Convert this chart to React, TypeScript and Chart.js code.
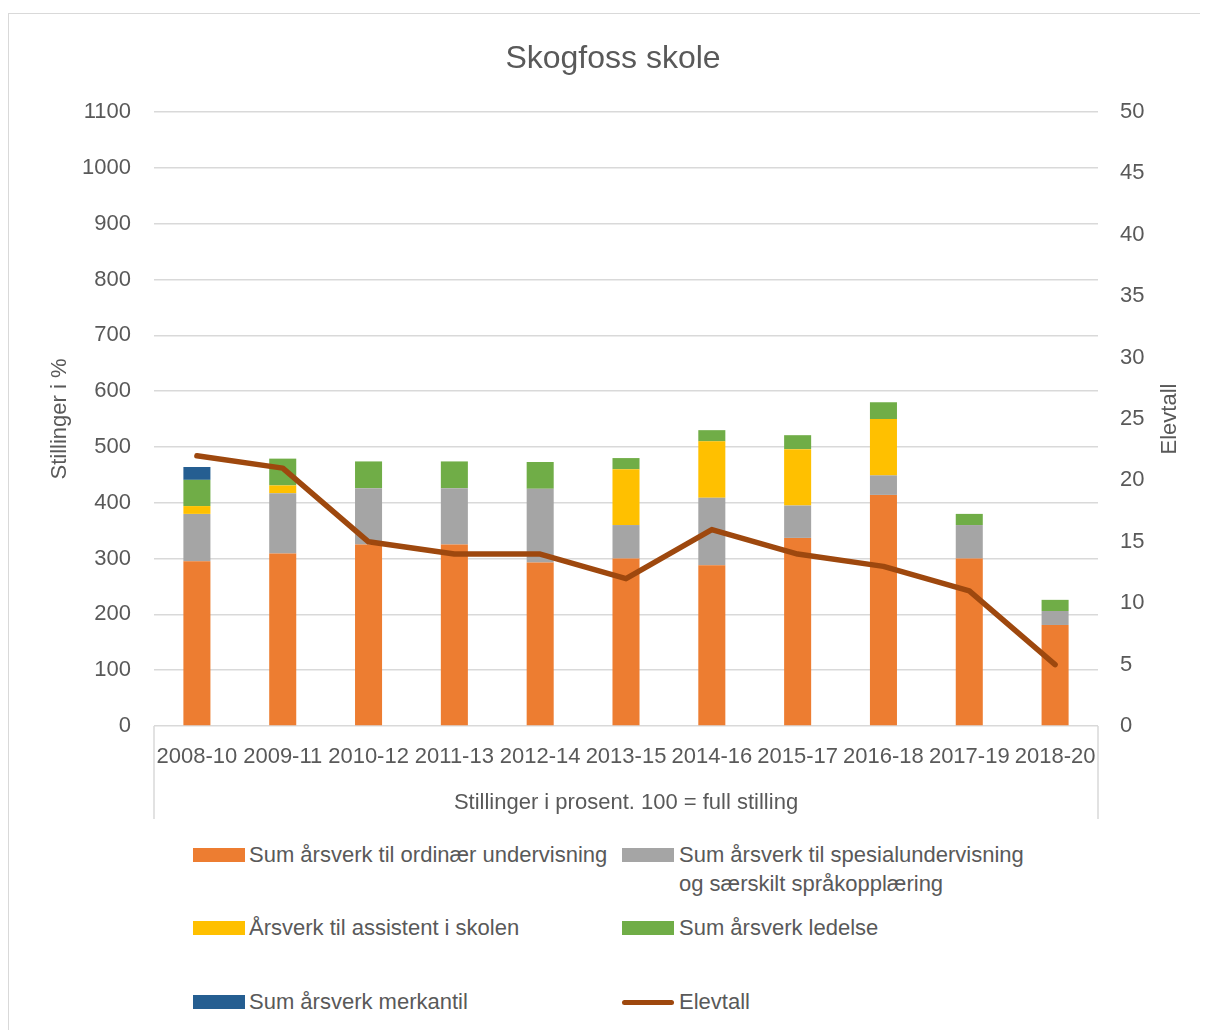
import React, { useEffect, useRef } from "react";
import { Chart, registerables } from "chart.js";

Chart.register(...registerables);

const categories = ["2008-10", "2009-11", "2010-12", "2011-13", "2012-14", "2013-15", "2014-16", "2015-17", "2016-18", "2017-19", "2018-20"];
const ordinaer = [295, 309, 325, 325, 293, 300, 288, 337, 414, 300, 181];
const spesial = [85, 108, 101, 101, 132, 60, 121, 58, 35, 60, 25];
const assistent = [14, 14, 0, 0, 0, 100, 101, 101, 101, 0, 0];
const ledelse = [47, 48, 48, 48, 48, 20, 20, 25, 30, 20, 20];
const merkantil = [23, 0, 0, 0, 0, 0, 0, 0, 0, 0, 0];
const elevtall = [22, 21, 15, 14, 14, 12, 16, 14, 13, 11, 5];

const title = "Skogfoss skole";
const leftTitle = "Stillinger i %";
const rightTitle = "Elevtall";
const xTitle = "Stillinger i prosent. 100 = full stilling";

const FONT = "'Liberation Sans', Arial, sans-serif";
const TXT = "#595959";
const GRID = "#d9d9d9";

const decorPlugin = {
  id: "decor",
  afterDraw(chart: any) {
    const ctx = chart.ctx;
    const a = chart.chartArea;
    ctx.save();
    ctx.fillStyle = TXT;
    ctx.textAlign = "center";
    ctx.textBaseline = "middle";
    ctx.font = `32px ${FONT}`;
    ctx.fillText(title, 604, 45);
    ctx.font = `22px ${FONT}`;
    ctx.fillText(xTitle, (a.left + a.right) / 2, 789);
    ctx.save();
    ctx.translate(51, (a.top + a.bottom) / 2);
    ctx.rotate(-Math.PI / 2);
    ctx.fillText(leftTitle, 0, 0);
    ctx.restore();
    ctx.save();
    ctx.translate(1161, (a.top + a.bottom) / 2);
    ctx.rotate(-Math.PI / 2);
    ctx.fillText(rightTitle, 0, 0);
    ctx.restore();
    ctx.strokeStyle = GRID;
    ctx.lineWidth = 1.5;
    ctx.beginPath();
    ctx.moveTo(a.left, a.bottom);
    ctx.lineTo(a.left, 805);
    ctx.moveTo(a.right, a.bottom);
    ctx.lineTo(a.right, 805);
    ctx.stroke();
    ctx.restore();
  },
};

export default function App() {
  const ref = useRef<HTMLCanvasElement>(null);
  useEffect(() => {
    document.documentElement.style.overflow = "hidden";
    const bar = (label: string, data: number[], color: string) => ({
      type: "bar" as const,
      label,
      data,
      backgroundColor: color,
      borderWidth: 0,
      yAxisID: "y",
      order: 1,
      categoryPercentage: 1,
      barPercentage: 0.315,
    });
    const chart = new Chart(ref.current!, {
      data: {
        labels: categories,
        datasets: [
          {
            type: "line" as const,
            label: "Elevtall",
            data: elevtall,
            borderColor: "#9e480e",
            backgroundColor: "#9e480e",
            borderWidth: 5.5,
            pointRadius: 0,
            tension: 0,
            yAxisID: "y1",
            order: 0,
            borderCapStyle: "round",
            borderJoinStyle: "round",
          } as any,
          bar("Sum årsverk til ordinær undervisning", ordinaer, "#ed7d31"),
          bar("Sum årsverk til spesialundervisning og særskilt språkopplæring", spesial, "#a5a5a5"),
          bar("Årsverk til assistent i skolen", assistent, "#ffc000"),
          bar("Sum årsverk ledelse", ledelse, "#70ad47"),
          bar("Sum årsverk merkantil", merkantil, "#255e91"),
        ],
      },
      options: {
        responsive: false,
        animation: false,
        layout: { padding: { top: 98, left: 0, right: 0, bottom: 0 } },
        plugins: { legend: { display: false }, title: { display: false }, tooltip: { enabled: false } },
        scales: {
          x: {
            stacked: true,
            grid: { display: false, drawTicks: false },
            border: { display: false },
            ticks: { color: TXT, font: { family: FONT, size: 22 }, padding: 18, autoSkip: false, maxRotation: 0, minRotation: 0 },
            afterFit: (s: any) => { s.height = 108; },
          },
          y: {
            stacked: true,
            min: 0,
            max: 1100,
            position: "left",
            grid: { color: GRID, lineWidth: 1.5, drawTicks: false },
            border: { display: false },
            ticks: { stepSize: 100, color: TXT, font: { family: FONT, size: 22 }, padding: 23, callback: (v: any) => String(v) },
            afterFit: (s: any) => { s.width = 145; },
          },
          y1: {
            min: 0,
            max: 50,
            position: "right",
            grid: { display: false, drawTicks: false },
            border: { display: false },
            ticks: { stepSize: 5, color: TXT, font: { family: FONT, size: 22 }, padding: 22, callback: (v: any) => String(v) },
            afterFit: (s: any) => { s.width = 110; },
          },
        },
      } as any,
      plugins: [decorPlugin],
    } as any);
    return () => chart.destroy();
  }, []);

  const textStyle = (left: number, top: number): React.CSSProperties => ({
    position: "absolute",
    left,
    top,
    font: `22px ${FONT}`,
    lineHeight: "29px",
    color: TXT,
    whiteSpace: "nowrap",
  });
  const sw = (left: number, top: number, color: string): React.CSSProperties => ({
    position: "absolute",
    left,
    top,
    width: 52,
    height: 14,
    background: color,
  });

  return (
    <div
      style={{
        position: "relative",
        marginTop: 5,
        width: 1199,
        height: 1016,
        borderLeft: `1.5px solid ${GRID}`,
        borderTop: `1.5px solid ${GRID}`,
        background: "#fff",
      }}
    >
      <canvas ref={ref} width={1199} height={820} style={{ position: "absolute", left: 0, top: 0 }} />
      <div style={sw(184, 834, "#ed7d31")} />
      <div style={textStyle(240, 826)}>Sum årsverk til ordinær undervisning</div>
      <div style={sw(613, 834, "#a5a5a5")} />
      <div style={textStyle(670, 826)}>
        Sum årsverk til spesialundervisning
        <br />
        og særskilt språkopplæring
      </div>
      <div style={sw(184, 907, "#ffc000")} />
      <div style={textStyle(240, 899)}>Årsverk til assistent i skolen</div>
      <div style={sw(613, 907, "#70ad47")} />
      <div style={textStyle(670, 899)}>Sum årsverk ledelse</div>
      <div style={sw(184, 981, "#255e91")} />
      <div style={textStyle(240, 973)}>Sum årsverk merkantil</div>
      <div
        style={{
          position: "absolute",
          left: 613,
          top: 985.5,
          width: 52,
          height: 5,
          borderRadius: 3,
          background: "#9e480e",
        }}
      />
      <div style={textStyle(670, 973)}>Elevtall</div>
    </div>
  );
}
